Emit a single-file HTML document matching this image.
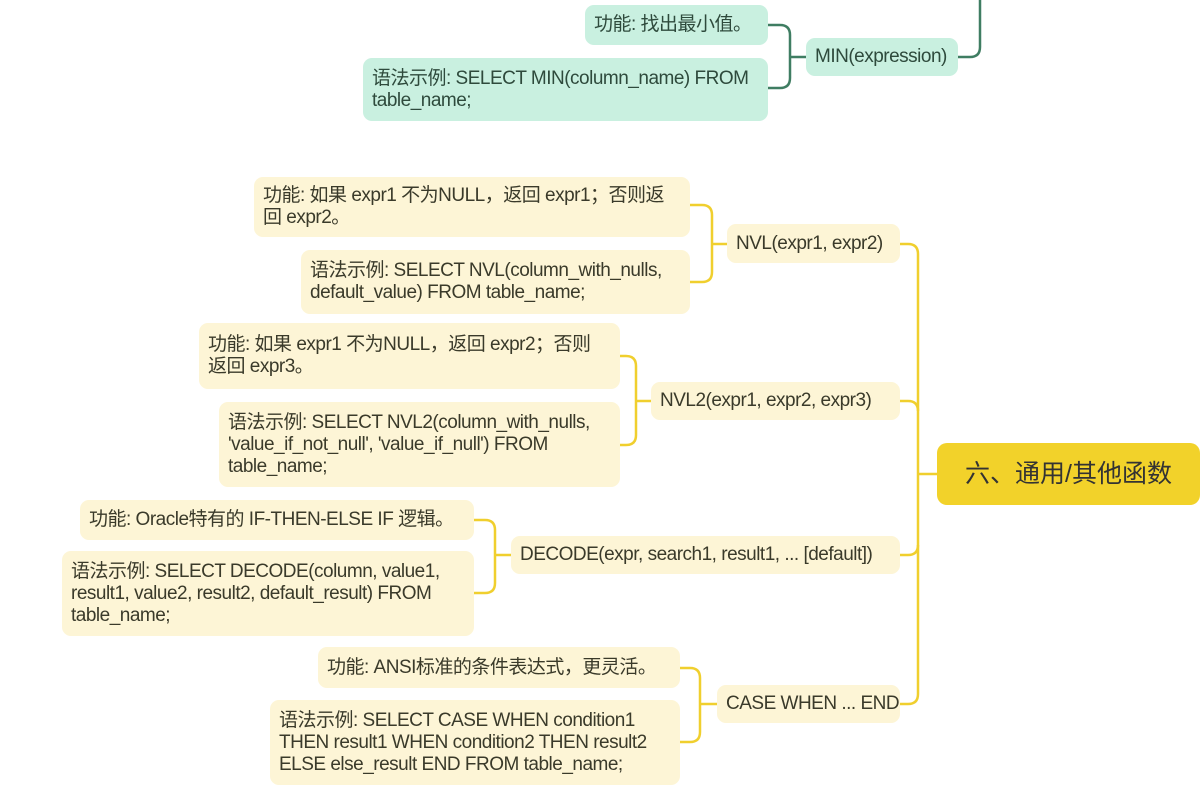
<!DOCTYPE html>
<html><head><meta charset="utf-8"><style>
body{margin:0;width:1200px;height:793px;background:#fff;position:relative;overflow:hidden;font-family:"Liberation Sans","Noto Sans CJK SC",sans-serif;}
.b{position:absolute;box-sizing:border-box;border-radius:9px;font-size:19px;line-height:22px;color:#3a3a2a;white-space:nowrap;padding:0 9px;display:flex;flex-direction:column;justify-content:center;letter-spacing:-0.5px;}
.y{background:#fdf5d6;}
.g{background:#c9f0e0;color:#2e4a3c;}
.m{background:#f2d22a;font-size:25px;color:#333;justify-content:center;align-items:center;border-radius:10px;letter-spacing:0;}
svg{position:absolute;left:0;top:0;}
</style></head><body>
<svg width="1200" height="793" fill="none">
<g stroke="#3f7d62" stroke-width="2.5">
<path d="M958 57 H970 Q980 57 980 47 V0"/>
<path d="M768 25 H780 Q790 25 790 35 V78 Q790 88 780 88 H768 M790 57 H806"/>
</g>
<g stroke="#f0cf2e" stroke-width="2.5">
<path d="M900 244 H908 Q918 244 918 254 V694 Q918 704 908 704 H900"/>
<path d="M900 401 H908 Q918 401 918 411 M900 555 H908 Q918 555 918 545 M918 474 H937"/>
<path d="M690 205 H702 Q712 205 712 215 V272 Q712 282 702 282 H690 M712 244 H727"/>
<path d="M620 356 H626 Q636 356 636 366 V435 Q636 445 626 445 H620 M636 401 H651"/>
<path d="M474 520 H485 Q495 520 495 530 V583 Q495 593 485 593 H474 M495 555 H511"/>
<path d="M680 668 H690 Q700 668 700 678 V732 Q700 742 690 742 H680 M700 704 H717"/>
</g>
</svg>
<div class="b g" style="left:585px;top:5px;width:183px;height:40px;">功能: 找出最小值。</div>
<div class="b g" style="left:363px;top:58px;width:405px;height:63px;">语法示例: SELECT MIN(column_name) FROM<br>table_name;</div>
<div class="b g" style="left:806px;top:38px;width:152px;height:38px;">MIN(expression)</div>

<div class="b y" style="left:254px;top:177px;width:436px;height:60px;">功能: 如果 expr1 不为NULL，返回 expr1；否则返<br>回 expr2。</div>
<div class="b y" style="left:301px;top:250px;width:389px;height:64px;">语法示例: SELECT NVL(column_with_nulls,<br>default_value) FROM table_name;</div>
<div class="b y" style="left:727px;top:224px;width:173px;height:39px;">NVL(expr1, expr2)</div>

<div class="b y" style="left:199px;top:323px;width:421px;height:66px;">功能: 如果 expr1 不为NULL，返回 expr2；否则<br>返回 expr3。</div>
<div class="b y" style="left:219px;top:402px;width:401px;height:85px;">语法示例: SELECT NVL2(column_with_nulls,<br>'value_if_not_null', 'value_if_null') FROM<br>table_name;</div>
<div class="b y" style="left:651px;top:382px;width:249px;height:38px;">NVL2(expr1, expr2, expr3)</div>

<div class="b y" style="left:80px;top:500px;width:394px;height:40px;">功能: Oracle特有的 IF-THEN-ELSE IF 逻辑。</div>
<div class="b y" style="left:62px;top:551px;width:412px;height:85px;">语法示例: SELECT DECODE(column, value1,<br>result1, value2, result2, default_result) FROM<br>table_name;</div>
<div class="b y" style="left:511px;top:536px;width:389px;height:38px;">DECODE(expr, search1, result1, ... [default])</div>

<div class="b y" style="left:318px;top:647px;width:362px;height:41px;">功能: ANSI标准的条件表达式，更灵活。</div>
<div class="b y" style="left:270px;top:700px;width:410px;height:85px;">语法示例: SELECT CASE WHEN condition1<br>THEN result1 WHEN condition2 THEN result2<br>ELSE else_result END FROM table_name;</div>
<div class="b y" style="left:717px;top:685px;width:183px;height:38px;">CASE WHEN ... END</div>

<div class="b m" style="left:937px;top:443px;width:263px;height:62px;">六、通用/其他函数</div>
</body></html>
